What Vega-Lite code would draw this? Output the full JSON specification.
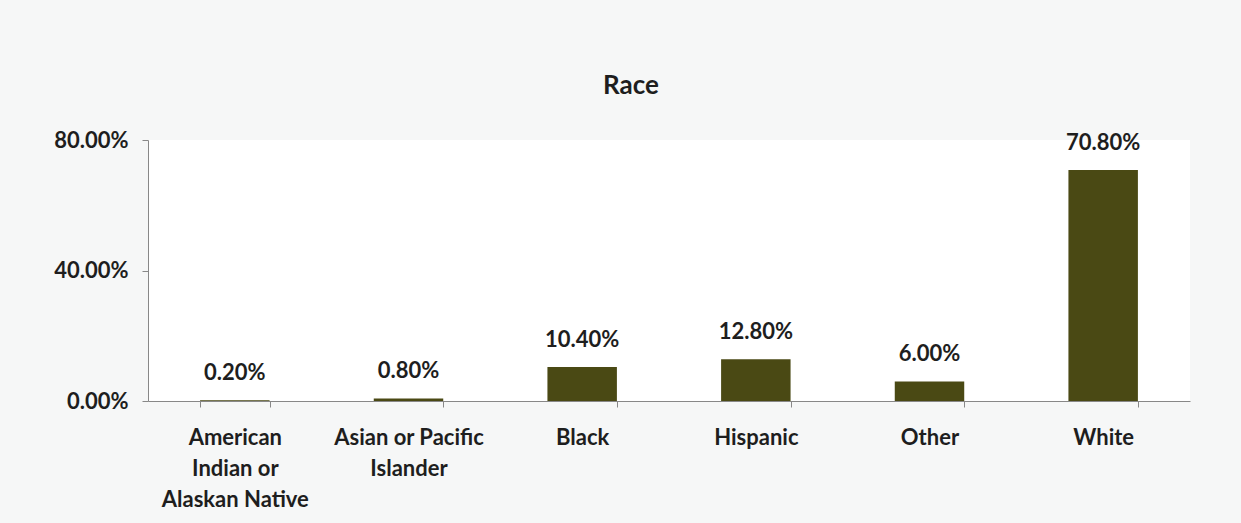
{
  "$schema": "https://vega.github.io/schema/vega-lite/v6.json",
  "width": 1042,
  "height": 261,
  "autosize": {"type": "none"},
  "padding": {"left": 148, "top": 140, "right": 51, "bottom": 122},
  "background": "#f6f7f7",
  "view": {"fill": "#ffffff", "stroke": null},
  "title": {
    "text": "Race",
    "font": "Lato",
    "fontSize": 26,
    "fontWeight": "bold",
    "color": "#1e1e1e",
    "offset": 30,
    "dx": -38
  },
  "data": {
    "values": [
      {"race": "American Indian or Alaskan Native", "pct": 0.002},
      {"race": "Asian or Pacific Islander", "pct": 0.008},
      {"race": "Black", "pct": 0.104},
      {"race": "Hispanic", "pct": 0.128},
      {"race": "Other", "pct": 0.06},
      {"race": "White", "pct": 0.708}
    ]
  },
  "encoding": {
    "x": {
      "field": "race",
      "type": "nominal",
      "sort": null,
      "scale": {"paddingInner": 0.6, "paddingOuter": 0.3},
      "axis": {
        "title": null,
        "labelAngle": 0,
        "labelFont": "Lato",
        "labelFontSize": 22,
        "labelFontWeight": "bold",
        "labelColor": "#1e1e1e",
        "labelPadding": 20,
        "labelLineHeight": 31,
        "labelLimit": 300,
        "labelExpr": "datum.value == 'American Indian or Alaskan Native' ? ['American', 'Indian or', 'Alaskan Native'] : datum.value == 'Asian or Pacific Islander' ? ['Asian or Pacific', 'Islander'] : datum.label",
        "tickBand": "extent",
        "tickSize": 6,
        "tickColor": "#888888",
        "domainColor": "#888888",
        "grid": false
      }
    },
    "y": {
      "field": "pct",
      "type": "quantitative",
      "scale": {"domain": [0, 0.8]},
      "axis": {
        "title": null,
        "values": [0, 0.4, 0.8],
        "format": ".2%",
        "labelFont": "Lato",
        "labelFontSize": 22,
        "labelFontWeight": "bold",
        "labelColor": "#1e1e1e",
        "labelPadding": 14,
        "tickSize": 6,
        "tickColor": "#888888",
        "domainColor": "#888888",
        "grid": false
      }
    }
  },
  "layer": [
    {"mark": {"type": "bar", "color": "#4a4914"}},
    {
      "mark": {
        "type": "text",
        "baseline": "bottom",
        "dy": -15,
        "font": "Lato",
        "fontSize": 22,
        "fontWeight": "bold",
        "color": "#1e1e1e"
      },
      "encoding": {
        "text": {"field": "pct", "type": "quantitative", "format": ".2%"}
      }
    }
  ]
}
